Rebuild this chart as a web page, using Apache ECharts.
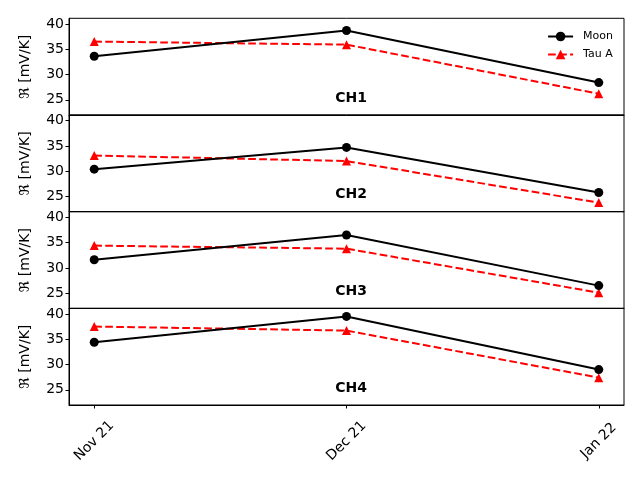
<!DOCTYPE html>
<html>
<head>
<meta charset="utf-8">
<script src="https://cdn.jsdelivr.net/npm/echarts@6/dist/echarts.min.js"></script>
<style>html,body{margin:0;padding:0;background:#fff;}#c{width:640px;height:480px;}</style>
</head>
<body>
<div id="c"></div>
<script>
const months = ['Nov 21', 'Dec 21', 'Jan 22'];
const channels = ['CH1', 'CH2', 'CH3', 'CH4'];
const moonCH1 = [33.6, 38.7, 28.4];
const moonCH2 = [30.4, 34.7, 25.8];
const moonCH3 = [31.6, 36.5, 26.5];
const moonCH4 = [34.4, 39.5, 29.0];
const tauCH1 = [36.5, 35.9, 26.2];
const tauCH2 = [33.1, 32.0, 23.8];
const tauCH3 = [34.4, 33.8, 25.1];
const tauCH4 = [37.5, 36.7, 27.4];
const yTicks = [25, 30, 35, 40];

const moon = [moonCH1, moonCH2, moonCH3, moonCH4];
const tau = [tauCH1, tauCH2, tauCH3, tauCH4];

const font = 'DejaVu Sans';
const tops = [18.3, 115.0, 211.7, 308.3];
const h = 96.7;
const grids = [], xAxes = [], yAxes = [], series = [], titles = [];
for (let i = 0; i < 4; i++) {
  const last = i === 3;
  grids.push({left: 69, right: 16, top: tops[i], height: h, show: true, borderColor: '#000', borderWidth: 1, backgroundColor: 'transparent'});
  xAxes.push({
    type: 'value', gridIndex: i, min: -0.1, max: 2.1,
    splitLine: {show: false},
    axisLine: {show: true, onZero: false, lineStyle: {color: '#000', width: 1}},
    axisTick: {show: last, length: 3.5, lineStyle: {color: '#000'}, customValues: [0, 1, 2]},
    axisLabel: {
      show: last, customValues: [0, 1, 2], rotate: 45, align: 'center', verticalAlign: 'middle',
      margin: 36, color: '#000', fontFamily: font, fontSize: 14,
      formatter: v => months[Math.round(v)]
    }
  });
  yAxes.push({
    type: 'value', gridIndex: i, min: 22.0, max: 41.1,
    name: 'ℜ [mV/K]', nameLocation: 'middle', nameGap: 37, nameRotate: 90,
    nameTextStyle: {color: '#000', fontFamily: font, fontSize: 14},
    splitLine: {show: false},
    axisLine: {show: true, onZero: false, lineStyle: {color: '#000', width: 1}},
    axisTick: {show: true, length: 3.5, lineStyle: {color: '#000'}, customValues: yTicks},
    axisLabel: {customValues: yTicks, color: '#000', fontFamily: font, fontSize: 14, margin: 5}
  });
  series.push({
    name: 'Moon', type: 'line', xAxisIndex: i, yAxisIndex: i,
    data: moon[i].map((v, k) => [k, v]),
    symbol: 'circle', symbolSize: 9,
    lineStyle: {color: '#000', width: 2},
    itemStyle: {color: '#000'}, z: 3
  });
  series.push({
    name: 'Tau A', type: 'line', xAxisIndex: i, yAxisIndex: i,
    data: tau[i].map((v, k) => [k, v]),
    symbol: 'triangle', symbolSize: 9,
    lineStyle: {color: '#ff0000', width: 2, type: [7.7, 3.3]},
    itemStyle: {color: '#ff0000'}, z: 2
  });
  titles.push({
    text: channels[i], left: 346, top: tops[i] + h - 29, textAlign: 'center',
    textStyle: {fontFamily: font, fontSize: 14, fontWeight: 'bold', color: '#000'}
  });
}

const chart = echarts.init(document.getElementById('c'));
chart.setOption({
  animation: false,
  backgroundColor: '#fff',
  title: titles,
  legend: {
    data: ['Moon', 'Tau A'], orient: 'vertical', right: 22, top: 26,
    itemGap: 7, itemWidth: 25, itemHeight: 12,
    textStyle: {fontFamily: font, fontSize: 11, color: '#000', padding: [0, 0, 0, 5]}
  },
  grid: grids, xAxis: xAxes, yAxis: yAxes, series: series
});
</script>
</body>
</html>
